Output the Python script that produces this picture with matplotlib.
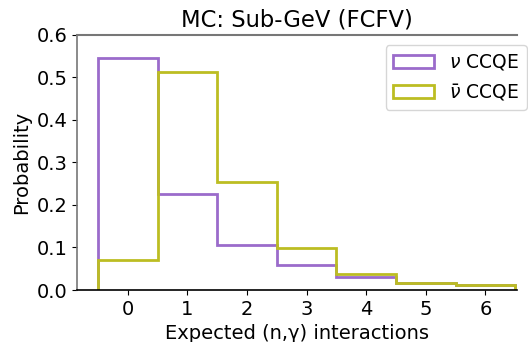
import numpy as np
import matplotlib
matplotlib.use('Agg')
import matplotlib.pyplot as plt

# expected (n,gamma) interactions, one bin per integer
n_capture = [0, 1, 2, 3, 4, 5, 6]
nu_ccqe = [0.545, 0.226, 0.106, 0.059, 0.031, 0.016, 0.012]
nubar_ccqe = [0.070, 0.512, 0.253, 0.098, 0.038, 0.017, 0.011]

fig = plt.figure(figsize=(5.28, 3.42), dpi=100)
ax = fig.add_axes([0.146, 0.152, 0.833, 0.746])

edges = np.arange(len(n_capture) + 1) - 0.5
ax.hist(n_capture, bins=edges, weights=nu_ccqe, histtype='step',
        color='#9b6bcb', lw=2, label=r'$\nu$ CCQE')
ax.hist(n_capture, bins=edges, weights=nubar_ccqe, histtype='step',
        color='#bcbd22', lw=2, label=r'$\bar{\nu}$ CCQE')

ax.set_xlim(-0.85, 6.53)
ax.set_ylim(0, 0.6)
ax.set_xticks(n_capture)
ax.set_yticks([0.0, 0.1, 0.2, 0.3, 0.4, 0.5, 0.6])
ax.tick_params(labelsize=14)
ax.set_xlabel('Expected (n,γ) interactions', fontsize=14)
ax.set_ylabel('Probability', fontsize=14)
ax.set_title('MC: Sub-GeV (FCFV)', fontsize=16.3)

ax.spines['right'].set_visible(False)
ax.spines['top'].set_color('#777777')
ax.spines['left'].set_color('#777777')
ax.spines['top'].set_linewidth(1.5)
ax.spines['left'].set_linewidth(1.2)
ax.spines['bottom'].set_linewidth(1.2)

ax.legend(loc='upper right', bbox_to_anchor=(1.023, 0.961), borderaxespad=0,
          fontsize=13.5, handlelength=2.2)

fig.savefig('out.png')
